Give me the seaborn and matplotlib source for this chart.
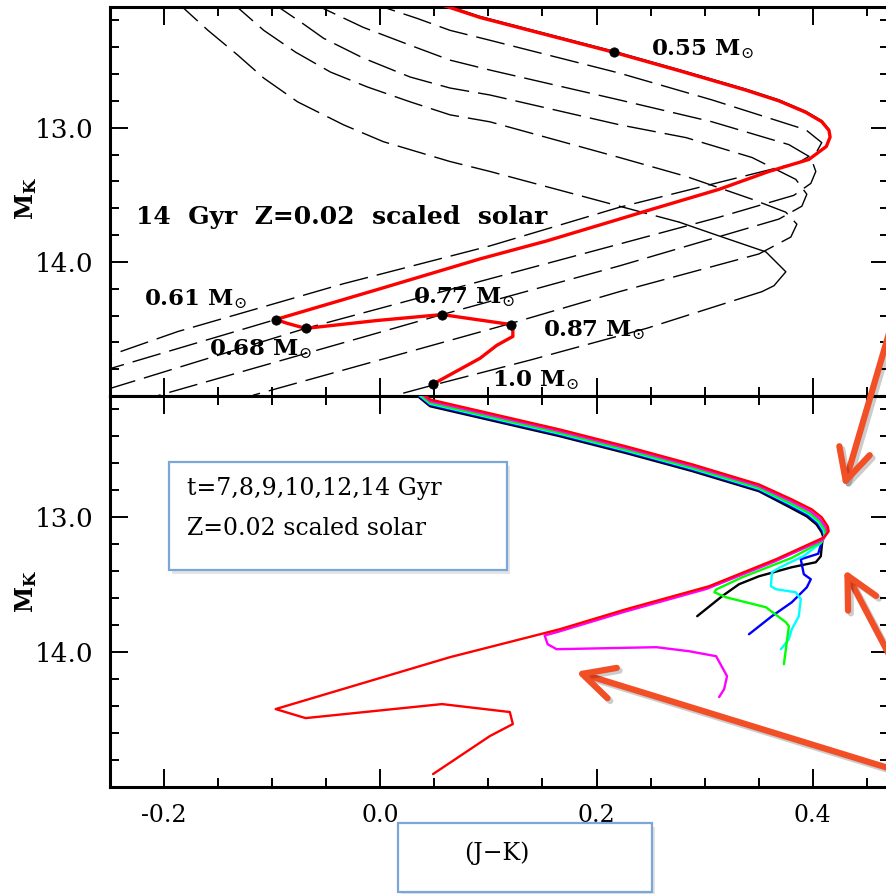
import matplotlib
matplotlib.use("Agg")
import matplotlib.pyplot as plt
import matplotlib.patheffects as pe
from matplotlib.patches import Rectangle, FancyArrowPatch
from matplotlib.ticker import MultipleLocator
import seaborn as sns

# ---- top panel: 14 Gyr isochrone and the evolutionary tracks ----
iso14_x = [0.048, 0.0922, 0.2157, 0.2765, 0.3382, 0.3687, 0.3935, 0.4083, 0.4150, 0.4160,
           0.4125, 0.3963, 0.3594, 0.3134, 0.2516, 0.2212, 0.1539, 0.0922, 0.0, -0.0968,
           -0.0857, -0.0691, -0.0028, 0.0571, 0.1207, 0.1226, 0.1226, 0.1078, 0.0922, 0.0488]
iso14_y = [12.06, 12.178, 12.437, 12.575, 12.72, 12.80, 12.885, 12.955, 13.02, 13.07,
           13.14, 13.237, 13.326, 13.459, 13.607, 13.681, 13.844, 13.978, 14.2, 14.43,
           14.459, 14.496, 14.437, 14.393, 14.467, 14.496, 14.556, 14.622, 14.719, 14.911]

# main-sequence part of the lowest mass track (drawn thin, under the red line)
ms_x = [0.048, 0.0922, 0.2157, 0.2765, 0.3382, 0.3687, 0.3935, 0.4083, 0.4150, 0.4160]
ms_y = [12.052, 12.170, 12.429, 12.567, 12.712, 12.792, 12.877, 12.947, 13.012, 13.06]
ms_tail_x = [0.0, -0.0968, -0.26]
ms_tail_y = [14.2, 14.43, 14.82]

trackE_x = [-0.012, 0.0065, 0.0341, 0.0645, 0.1014, 0.2212, 0.3069, 0.3935, 0.4083, 0.4037,
            0.3871, 0.2212, 0.1014, -0.0341, -0.1871, -0.2396, -0.26]
trackE_y = [12.06, 12.111, 12.185, 12.274, 12.348, 12.593, 12.793, 13.015, 13.111, 13.178,
            13.259, 13.593, 13.881, 14.163, 14.519, 14.667, 14.72]

trackD_x = [-0.066, -0.0488, -0.0157, 0.0276, 0.0645, 0.1014, 0.2212, 0.3069, 0.3779, 0.3982,
            0.4028, 0.3982, 0.3825, 0.3134, 0.2212, 0.1014, -0.0691, -0.2488, -0.26]
trackD_y = [12.06, 12.126, 12.252, 12.385, 12.496, 12.570, 12.793, 12.956, 13.126, 13.222,
            13.326, 13.415, 13.504, 13.667, 13.867, 14.126, 14.496, 14.941, 14.97]

trackC_x = [-0.1015, -0.0922, -0.0719, -0.0525, -0.0157, 0.0276, 0.0645, 0.1014, 0.2212, 0.2829,
            0.3438, 0.3843, 0.3945, 0.3899, 0.3687, 0.2212, 0.0571, -0.1908, -0.22]
trackC_y = [12.06, 12.111, 12.222, 12.333, 12.481, 12.622, 12.704, 12.756, 12.978, 13.074,
            13.222, 13.385, 13.496, 13.585, 13.681, 14.030, 14.393, 14.963, 15.03]

trackB_x = [-0.138, -0.1309, -0.1078, -0.0783, -0.0461, -0.0120, 0.0276, 0.0645, 0.1014, 0.2212,
            0.2829, 0.3438, 0.3751, 0.3853, 0.3797, 0.3502, 0.2212, 0.1207, -0.1171, -0.13]
trackB_y = [12.06, 12.111, 12.274, 12.437, 12.585, 12.696, 12.807, 12.904, 12.956, 13.222,
            13.363, 13.533, 13.630, 13.719, 13.815, 13.941, 14.222, 14.459, 14.993, 15.05]

trackA_x = [-0.189, -0.1816, -0.1594, -0.1318, -0.1078, -0.0765, -0.0341, 0.0028, 0.0645, 0.1014,
            0.2212, 0.2765, 0.3134, 0.3567, 0.3751, 0.3641, 0.3530, 0.2461, 0.1382, 0.0488,
            0.0184, 0.0]
trackA_y = [12.06, 12.111, 12.274, 12.459, 12.630, 12.807, 12.978, 13.104, 13.252, 13.326,
            13.585, 13.704, 13.807, 13.926, 14.074, 14.178, 14.222, 14.496, 14.733, 14.919,
            14.985, 15.03]

mass_x = [0.2157, -0.0968, -0.0691, 0.0571, 0.1207, 0.0488]
mass_y = [12.437, 14.43, 14.496, 14.393, 14.467, 14.911]
mass_labels = ["0.55", "0.61", "0.68", "0.77", "0.87", "1.0"]
label_x = [0.2507, -0.2184, -0.1585, 0.0304, 0.1502, 0.1032]
label_y = [12.459, 14.326, 14.696, 14.311, 14.556, 14.926]

# ---- bottom panel: isochrones for several ages ----
ages = ["7", "8", "9", "10", "12", "14"]
age_colors = ["#000000", "#0000ff", "#00ffff", "#00ff00", "#ff00ff", "#ff0000"]

t7_x = [0.036, 0.0461, 0.1659, 0.2276, 0.2885, 0.3502, 0.3770, 0.3945, 0.4035, 0.4082,
        0.4095, 0.4083, 0.4074, 0.4028, 0.3806, 0.3502, 0.3318, 0.3161, 0.2931]
t7_y = [12.11, 12.176, 12.398, 12.524, 12.657, 12.806, 12.918, 12.993, 13.053, 13.11,
        13.14, 13.215, 13.289, 13.333, 13.370, 13.437, 13.496, 13.585, 13.733]

t8_x = [0.036, 0.0461, 0.1659, 0.2276, 0.2885, 0.3502, 0.3780, 0.3955, 0.4045, 0.4092,
        0.4105, 0.4080, 0.4050, 0.3889, 0.3917, 0.3982, 0.3945, 0.3806, 0.3622, 0.3410]
t8_y = [12.10, 12.166, 12.388, 12.514, 12.647, 12.796, 12.908, 12.983, 13.043, 13.10,
        13.135, 13.19, 13.27, 13.311, 13.422, 13.459, 13.519, 13.630, 13.733, 13.867]

t9_x = [0.036, 0.0461, 0.1659, 0.2276, 0.2885, 0.3502, 0.3785, 0.3962, 0.4052, 0.4100,
        0.4110, 0.4075, 0.3920, 0.3700, 0.3622, 0.3613, 0.3659, 0.3843, 0.3889, 0.3871,
        0.3806, 0.3779, 0.3705]
t9_y = [12.092, 12.158, 12.38, 12.506, 12.639, 12.788, 12.90, 12.975, 13.035, 13.095,
        13.13, 13.19, 13.285, 13.37, 13.407, 13.511, 13.533, 13.556, 13.607, 13.733,
        13.830, 13.904, 13.978]

t10_x = [0.036, 0.0461, 0.1659, 0.2276, 0.2885, 0.3502, 0.3790, 0.3970, 0.4060, 0.4110,
         0.4120, 0.4085, 0.3806, 0.3346, 0.3106, 0.3090, 0.3198, 0.3567, 0.3751, 0.3779,
         0.3733]
t10_y = [12.085, 12.151, 12.373, 12.499, 12.632, 12.781, 12.893, 12.968, 13.028, 13.09,
         13.125, 13.18, 13.30, 13.445, 13.535, 13.556, 13.593, 13.667, 13.778, 13.807,
         14.089]

t12_x = [0.036, 0.0461, 0.1659, 0.2276, 0.2885, 0.3502, 0.3800, 0.3980, 0.4070, 0.4125,
         0.4135, 0.4095, 0.3640, 0.3020, 0.2260, 0.1640, 0.1520, 0.1548, 0.1631, 0.2553,
         0.2857, 0.3106, 0.3207, 0.3180, 0.3134]
t12_y = [12.07, 12.138, 12.36, 12.486, 12.619, 12.768, 12.880, 12.955, 13.015, 13.08,
         13.115, 13.165, 13.33, 13.53, 13.70, 13.85, 13.876, 13.941, 13.978, 13.963,
         13.993, 14.030, 14.178, 14.274, 14.333]

t14_x = [0.036, 0.0461, 0.1659, 0.2276, 0.2885, 0.3502, 0.3806, 0.3991, 0.4083, 0.4138,
         0.4147, 0.4100, 0.3659, 0.3041, 0.2276, 0.1659, 0.0645, -0.0968, -0.0691, 0.0571,
         0.1198, 0.1226, 0.1014, 0.0488]
t14_y = [12.06, 12.126, 12.348, 12.474, 12.607, 12.756, 12.867, 12.941, 13.0, 13.067,
         13.104, 13.15, 13.311, 13.511, 13.681, 13.830, 14.037, 14.422, 14.489, 14.385,
         14.444, 14.533, 14.622, 14.904]

age_x = [t7_x, t8_x, t9_x, t10_x, t12_x, t14_x]
age_y = [t7_y, t8_y, t9_y, t10_y, t12_y, t14_y]

y_labelled = [13.0, 14.0]

# overlay arrows (pixel positions of tail and head in the image)
arrow_tails = [(890, 330), (893, 662), (898, 771)]
arrow_heads = [(843, 490), (843, 567), (573, 671)]

W, H = 886, 894
BOX_BLUE = "#7ba7d8"
ARROW = "#f24f26"

sns.set_style("ticks")
plt.rcParams["font.family"] = ["DejaVu Serif"]
plt.rcParams["mathtext.fontset"] = "dejavuserif"
for key in ("text.color", "axes.edgecolor", "axes.labelcolor", "xtick.color", "ytick.color"):
    plt.rcParams[key] = "black"

fig = plt.figure(figsize=(W / 100, H / 100), dpi=100)
ax_top = fig.add_axes([110 / W, 1 - 396 / H, 779 / W, 389 / H])
ax_bot = fig.add_axes([110 / W, 1 - 787 / H, 779 / W, 391 / H])

DASH = (0, (21, 6.5))


def line(ax, xs, ys, color="k", lw=1.0, ls="-", z=2):
    sns.lineplot(x=xs, y=ys, sort=False, estimator=None, color=color, lw=lw,
                 linestyle=ls, ax=ax, legend=False, zorder=z)


# top panel
for tx, ty in [(trackE_x, trackE_y), (trackD_x, trackD_y), (trackC_x, trackC_y),
               (trackB_x, trackB_y)]:
    line(ax_top, tx, ty, ls=DASH)
line(ax_top, trackA_x[:12], trackA_y[:12], ls=DASH)
line(ax_top, trackA_x[11:17], trackA_y[11:17])
line(ax_top, trackA_x[16:], trackA_y[16:], ls=DASH)
line(ax_top, ms_tail_x, ms_tail_y, ls=DASH)
line(ax_top, ms_x, ms_y, lw=1.0, z=3)
line(ax_top, iso14_x, iso14_y, color="#ff0000", lw=2.4, z=4)
sns.scatterplot(x=mass_x, y=mass_y, color="k", s=45, edgecolor="k", ax=ax_top, zorder=5,
                legend=False)
for lab, lx, ly in zip(mass_labels, label_x, label_y):
    ax_top.text(lx, ly, lab + r" M$_{\odot}$", fontsize=16.5, fontweight="bold",
                va="baseline", ha="left", zorder=6)
ax_top.text(-0.2258, 13.719, "14  Gyr  Z=0.02  scaled  solar", fontsize=18,
            fontweight="bold", va="baseline", ha="left")

# bottom panel
for i, (ax_, ay_) in enumerate(zip(age_x, age_y)):
    line(ax_bot, ax_, ay_, color=age_colors[i], lw=1.7, z=2 + i)

for ax in (ax_top, ax_bot):
    ax.set_xlim(-0.25, 0.4705)
    ax.set_ylim(15.0, 12.1)
    ax.xaxis.set_major_locator(MultipleLocator(0.2))
    ax.xaxis.set_minor_locator(MultipleLocator(0.05))
    ax.set_yticks(y_labelled)
    ax.yaxis.set_minor_locator(MultipleLocator(0.2))
    ax.yaxis.set_major_formatter(plt.FormatStrFormatter("%.1f"))
    ax.xaxis.set_major_formatter(plt.FormatStrFormatter("%.1f"))
    ax.tick_params(which="both", direction="in", top=True, right=True, width=1.4,
                   color="black")
    ax.tick_params(axis="y", labelsize=19, pad=12)
    ax.tick_params(axis="x", labelsize=17, pad=12)
    ax.tick_params(which="major", length=13)
    ax.tick_params(which="minor", length=6.5)
    for s in ax.spines.values():
        s.set_linewidth(2.2)
        s.set_color("black")
    ax.set_xlabel("")
    ax.set_ylabel("")
ax_top.tick_params(labelbottom=False)

# axis titles
for yc in (198, 591):
    fig.text(26 / W, 1 - yc / H, r"M$_{\mathbf{K}}$", rotation=90, fontsize=17,
             fontweight="bold", ha="center", va="center")

shadow = [pe.SimplePatchShadow(offset=(2, -3), alpha=0.15), pe.Normal()]
box1 = Rectangle((169 / W, 1 - 570 / H), 338 / W, 108 / H, transform=fig.transFigure,
                 facecolor="white", edgecolor=BOX_BLUE, lw=1.6, zorder=10,
                 path_effects=shadow)
fig.add_artist(box1)
fig.text(187 / W, 1 - 495 / H, "t=7,8,9,10,12,14 Gyr", fontsize=17, zorder=11)
fig.text(187 / W, 1 - 535 / H, "Z=0.02 scaled solar", fontsize=17, zorder=11)

box2 = Rectangle((398 / W, 1 - 892 / H), 254 / W, 69 / H, transform=fig.transFigure,
                 facecolor="white", edgecolor=BOX_BLUE, lw=1.6, zorder=10,
                 path_effects=shadow)
fig.add_artist(box2)
fig.text(497 / W, 1 - 860 / H, "(J\u2212K)", fontsize=17, ha="center", va="baseline",
         zorder=11)

for (x0, y0), (x1, y1) in zip(arrow_tails, arrow_heads):
    arr = FancyArrowPatch((x0 / W, 1 - y0 / H), (x1 / W, 1 - y1 / H),
                          transform=fig.transFigure,
                          arrowstyle="->,head_length=0.75,head_width=0.38",
                          mutation_scale=30, lw=4.5, color=ARROW, zorder=20,
                          path_effects=[pe.SimpleLineShadow(offset=(2, -2), alpha=0.2),
                                        pe.Normal()])
    fig.add_artist(arr)

fig.savefig("out.png", dpi=100)
